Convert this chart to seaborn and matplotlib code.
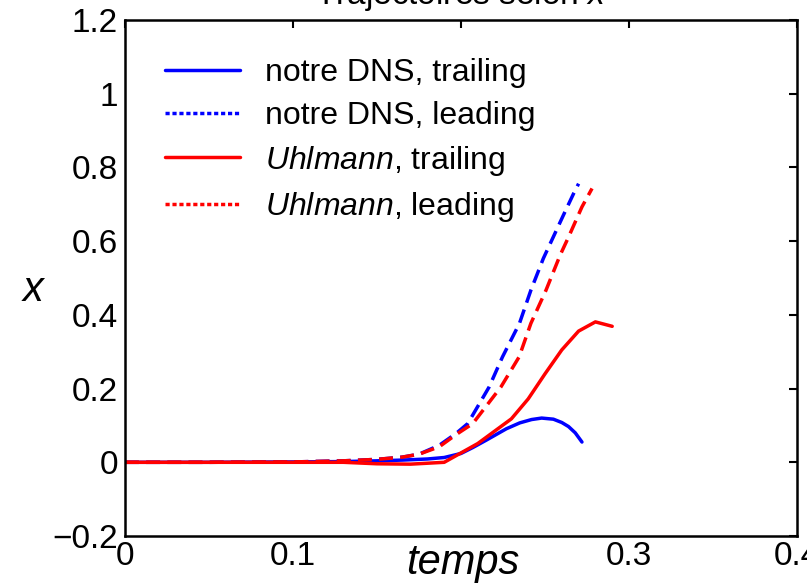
import matplotlib
matplotlib.use("Agg")
import matplotlib.pyplot as plt
import seaborn as sns
from matplotlib.lines import Line2D
from matplotlib.ticker import FixedLocator, FixedFormatter

# Trajectoires en x des deux particules (trailing / leading)
t_dns_trailing = [0.0, 0.05, 0.10, 0.13, 0.15, 0.165, 0.18, 0.19, 0.20, 0.207, 0.215,
                  0.227, 0.235, 0.242, 0.248, 0.255, 0.260, 0.264, 0.268, 0.272]
x_dns_trailing = [0.0, 0.0, 0.001, 0.002, 0.004, 0.006, 0.009, 0.013, 0.024, 0.040, 0.060,
                  0.091, 0.107, 0.116, 0.120, 0.117, 0.108, 0.097, 0.080, 0.055]

t_dns_leading = [0.0, 0.05, 0.10, 0.13, 0.15, 0.165, 0.175, 0.187, 0.197, 0.204, 0.2167,
                 0.2247, 0.2348, 0.2416, 0.249, 0.255, 0.261, 0.267, 0.270]
x_dns_leading = [0.0, 0.0, 0.001, 0.004, 0.008, 0.014, 0.022, 0.046, 0.078, 0.105, 0.204,
                 0.286, 0.377, 0.467, 0.553, 0.612, 0.671, 0.729, 0.756]

t_uhl_trailing = [0.0, 0.10, 0.13, 0.15, 0.17, 0.19, 0.21, 0.23, 0.24, 0.25, 0.26, 0.27, 0.28, 0.29]
x_uhl_trailing = [0.0, 0.0, 0.0, -0.004, -0.005, 0.0, 0.051, 0.118, 0.172, 0.240, 0.305,
                  0.356, 0.381, 0.369]

t_uhl_leading = [0.0, 0.05, 0.10, 0.13, 0.15, 0.165, 0.175, 0.187, 0.197, 0.207, 0.2237,
                 0.2346, 0.2416, 0.2506, 0.259, 0.264, 0.272, 0.278]
x_uhl_leading = [0.0, 0.0, 0.001, 0.004, 0.008, 0.014, 0.022, 0.042, 0.075, 0.105, 0.204,
                 0.286, 0.377, 0.467, 0.562, 0.611, 0.693, 0.743]

legend_labels = ["notre DNS, trailing", "notre DNS, leading",
                 r"$\it{Uhlmann}$, trailing", r"$\it{Uhlmann}$, leading"]

x_ticks = [0.0, 0.1, 0.2, 0.3, 0.4]
x_tick_labels = ["0", "0.1", "", "0.3", "0.4"]
y_ticks = [-0.2, 0.0, 0.2, 0.4, 0.6, 0.8, 1.0, 1.2]
y_tick_labels = ["\u22120.2", "0", "0.2", "0.4", "0.6", "0.8", "1", "1.2"]

sns.set_style("white")
plt.rcParams["font.family"] = ["Liberation Sans", "DejaVu Sans"]
plt.rcParams["mathtext.fontset"] = "custom"
plt.rcParams["mathtext.rm"] = "Liberation Sans"
plt.rcParams["mathtext.it"] = "Liberation Sans:italic"
plt.rcParams["text.color"] = "black"
plt.rcParams["axes.labelcolor"] = "black"

fig = plt.figure(figsize=(8.07, 5.86), dpi=100)
ax = fig.add_axes([0.1549, 0.0853, 0.8327, 0.8805])

dash = (0, (4.0, 2.1))
lw = 2.5
series = [
    (t_dns_trailing, x_dns_trailing, "#0000ff", "-"),
    (t_dns_leading, x_dns_leading, "#0000ff", dash),
    (t_uhl_trailing, x_uhl_trailing, "#ff0000", "-"),
    (t_uhl_leading, x_uhl_leading, "#ff0000", dash),
]
for t, x, col, ls in series:
    sns.lineplot(x=t, y=x, ax=ax, color=col, linewidth=lw, linestyle=ls,
                 sort=False, estimator=None, legend=False)

ax.set_xlim(0, 0.4)
ax.set_ylim(-0.2, 1.2)
ax.xaxis.set_major_locator(FixedLocator(x_ticks))
ax.xaxis.set_major_formatter(FixedFormatter(x_tick_labels))
ax.yaxis.set_major_locator(FixedLocator(y_ticks))
ax.yaxis.set_major_formatter(FixedFormatter(y_tick_labels))

for sp in ax.spines.values():
    sp.set_visible(True)
    sp.set_color("black")
    sp.set_linewidth(1.8)
ax.tick_params(direction="in", length=6, width=1.5, colors="black",
               top=True, right=True, labelsize=24)
ax.tick_params(axis="x", pad=3.6)
ax.tick_params(axis="y", pad=5)

ax.set_xlabel("temps", fontsize=30, style="italic")
ax.xaxis.set_label_coords(0.503, -0.0736)
ax.xaxis.label.set_va("baseline")
ax.set_ylabel("x", fontsize=30, style="italic", rotation=0)
ax.yaxis.set_label_coords(-0.137, 0.477)
ax.yaxis.label.set_va("center")
ax.yaxis.label.set_ha("center")

ax.set_title(r"Trajectoires selon $\it{x}$", fontsize=24, pad=11.5)

dot = (0, (1.2, 0.8))
handles = [
    Line2D([], [], color="#0000ff", lw=lw, ls="-"),
    Line2D([], [], color="#0000ff", lw=lw, ls=dot),
    Line2D([], [], color="#ff0000", lw=lw, ls="-"),
    Line2D([], [], color="#ff0000", lw=lw, ls=dot),
]
ax.legend(handles, legend_labels, loc="upper left", bbox_to_anchor=(0.0595, 0.9265),
          frameon=False, fontsize=23, borderpad=0, borderaxespad=0,
          handlelength=2.35, handletextpad=0.78, labelspacing=0.4)

fig.savefig("out.png", dpi=100)
